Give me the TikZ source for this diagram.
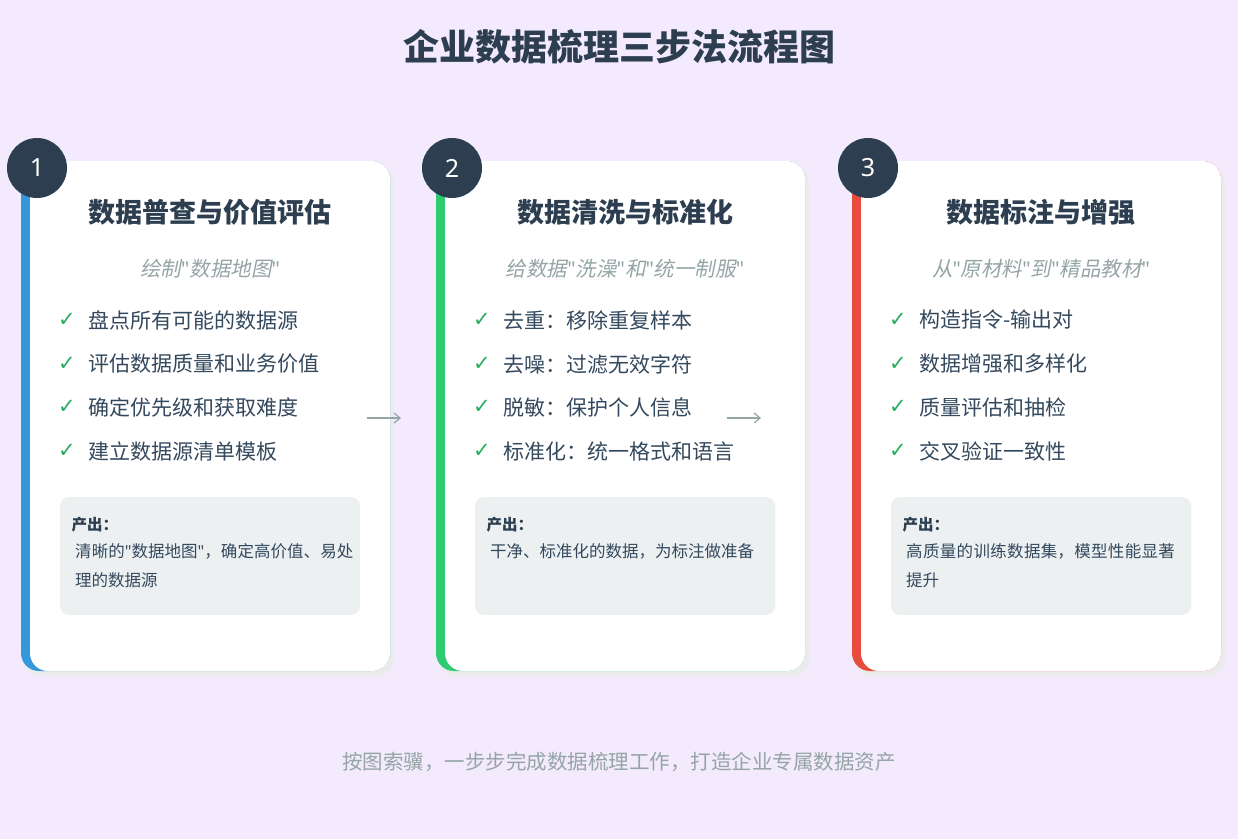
\documentclass[tikz,border=0pt]{standalone}
\usepackage{fontspec}
\setmainfont{Noto Sans CJK SC}
\newfontfamily\cjkit[FakeSlant=0.2]{Noto Sans CJK SC}
\newfontfamily\djv{DejaVu Sans}
\newfontfamily\lat{Noto Sans}
\XeTeXlinebreaklocale "zh"
\XeTeXlinebreakskip=0pt plus 1pt
\usetikzlibrary{shadows,arrows.meta}
\definecolor{bgc}{HTML}{F3EAFD}
\definecolor{dark}{HTML}{2C3E50}
\definecolor{txt}{HTML}{34495E}
\definecolor{grayt}{HTML}{95A5A6}
\definecolor{boxc}{HTML}{ECF0F1}
\definecolor{cblue}{HTML}{3498DB}
\definecolor{cgreen}{HTML}{2ECC71}
\definecolor{cred}{HTML}{E74C3C}
\tikzset{
 x=1pt,y=-1pt,
 cardtitle/.style={font=\fontsize{27}{32}\selectfont\bfseries, text=dark, anchor=center},
 sub/.style={font=\cjkit\fontsize{20.5}{24}\selectfont, text=grayt},
 item/.style={font=\fontsize{21}{25}\selectfont, text=txt, anchor=west},
 chk/.style={font=\djv\fontsize{21}{25}\selectfont, text=cgreen!85!black, anchor=center},
 outbox/.style={fill=boxc, rounded corners=9pt},
 outh/.style={font=\fontsize{15.5}{18}\selectfont\bfseries, text=dark, anchor=west},
 outt/.style={font=\fontsize{16.5}{29}\selectfont, text=txt, anchor=north west, align=left, text width=280pt, inner sep=0pt},
 numc/.style={circle, fill=dark, minimum size=60pt, inner sep=0pt, text=white, font=\lat\fontsize{25}{28}\selectfont\bfseries},
 flow/.style={draw=grayt, line width=1.2pt, -{Straight Barb[length=6pt,width=10pt]}},
}
\begin{document}
\begin{tikzpicture}
\fill[bgc] (0,0) rectangle (1238,839);
\useasboundingbox (0,0) rectangle (1238,839);
\node[font=\fontsize{36}{42}\selectfont\bfseries, text=dark] (title) at (619,47) {企业数据梳理三步法流程图};
\newcommand{\card}[9]{%
 \fill[black!8, rounded corners=18pt] (#1+2,165) rectangle (#1+373,676);
 \fill[#2, rounded corners=18pt] (#1,161) rectangle (#1+369,671);
 \fill[white, rounded corners=18pt] (#1+9,161) rectangle (#1+369,671);
 \node[cardtitle] (t#3) at (#1+189,212) {#4};
 \node[sub] (s#3) at (#1+189,269) {#5};
 \foreach \yy/\tt [count=\i] in {320/#6,364/#7,407/#8,451/#9}{
  \node[chk] (c#3\i) at (#1+46,\yy) {✓};
  \node[item] (i#3\i) at (#1+64,\yy) {\tt};
 }
 \node[numc] (n#3) at (#1+16,168) {#3};
}
\card{21}{cblue}{1}{数据普查与价值评估}{绘制{\lat"}数据地图{\lat"}}{盘点所有可能的数据源}{评估数据质量和业务价值}{确定优先级和获取难度}{建立数据源清单模板}
\card{436}{cgreen}{2}{数据清洗与标准化}{给数据{\lat"}洗澡{\lat"}和{\lat"}统一制服{\lat"}}{去重：移除重复样本}{去噪：过滤无效字符}{脱敏：保护个人信息}{标准化：统一格式和语言}
\card{852}{cred}{3}{数据标注与增强}{从{\lat"}原材料{\lat"}到{\lat"}精品教材{\lat"}}{构造指令-输出对}{数据增强和多样化}{质量评估和抽检}{交叉验证一致性}
\foreach \x/\k/\t in {60/1/{清晰的{\lat"}数据地图{\lat"}，确定高价值、易处理的数据源},475/2/{干净、标准化的数据，为标注做准备},891/3/{高质量的训练数据集，模型性能显著提升}}{
 \fill[outbox] (\x,497) rectangle (\x+300,615);
 \node[outh] (oh\k) at (\x+8,525) {产出：};
 \node[outt] (ot\k) at (\x+15,543) {\t};
}
\coordinate (a1s) at (367,418); \coordinate (a1e) at (401,418);
\coordinate (a2s) at (727,418); \coordinate (a2e) at (761,418);
\draw[flow] (a1s) -- (a1e);
\draw[flow] (a2s) -- (a2e);
\node[font=\fontsize{20.5}{24}\selectfont, text=grayt] (foot) at (619,762) {按图索骥，一步步完成数据梳理工作，打造企业专属数据资产};
\end{tikzpicture}
\end{document}
